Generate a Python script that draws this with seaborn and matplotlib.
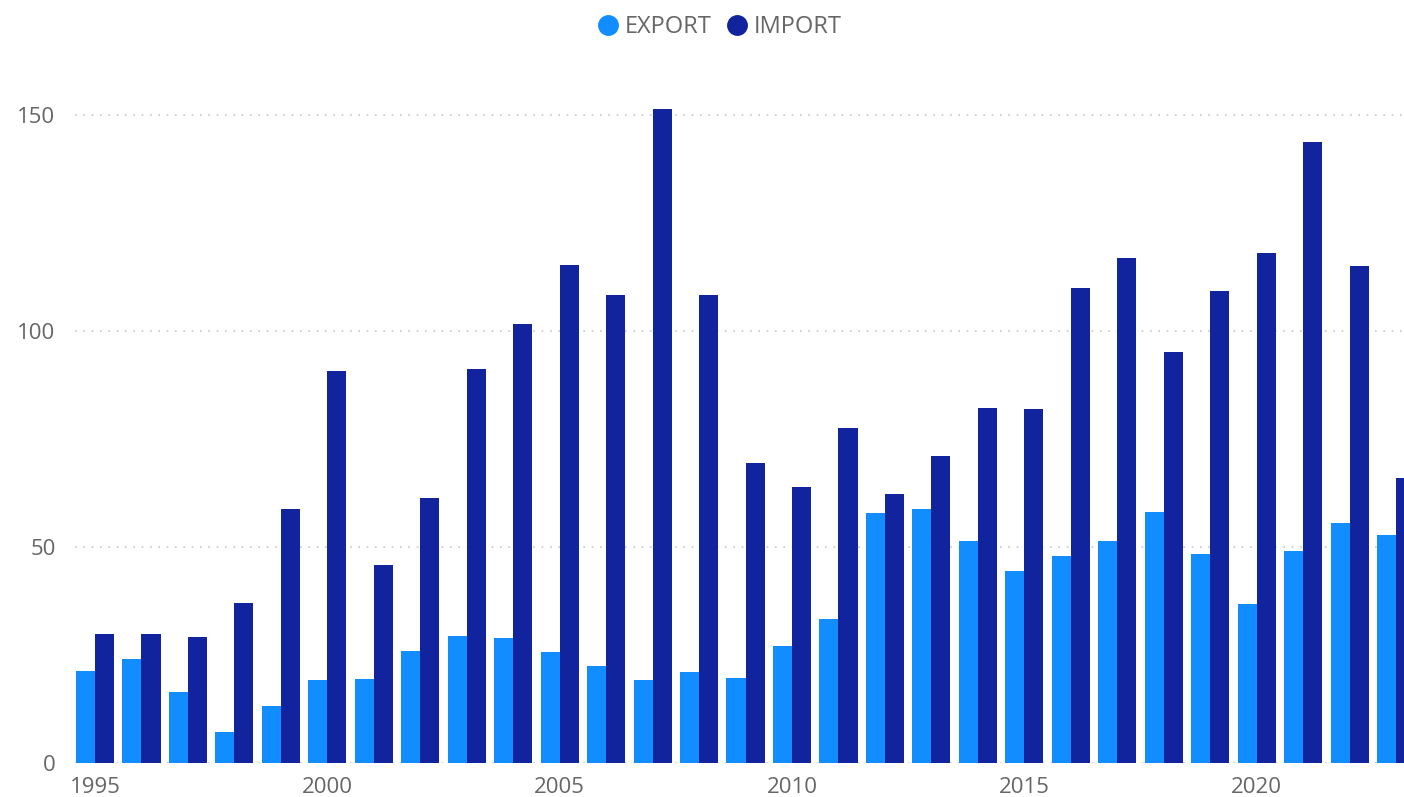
import pandas as pd
import matplotlib.pyplot as plt
import seaborn as sns
from matplotlib.lines import Line2D

# values
years = list(range(1995, 2024))
export = [21.3, 24.1, 16.5, 7.2, 13.2, 19.3, 19.5, 26.0, 29.5, 29.0,
          25.8, 22.5, 19.3, 21.1, 19.7, 27.1, 33.4, 57.8, 58.7, 51.5,
          44.5, 48.0, 51.5, 58.2, 48.5, 36.9, 49.0, 55.5, 52.9]
imports = [29.9, 29.9, 29.2, 37.1, 58.7, 90.7, 45.9, 61.3, 91.2, 101.6,
           115.3, 108.4, 151.5, 108.4, 69.4, 64.0, 77.5, 62.4, 71.0, 82.1,
           81.9, 110.0, 116.9, 95.1, 109.3, 118.1, 143.9, 115.1, 66.1]
series = ['EXPORT', 'IMPORT']
colors = ['#118DFF', '#12239E']

df = pd.DataFrame({
    'year': [str(y) for y in years] * 2,
    'value': export + imports,
    'flow': ['EXPORT'] * len(years) + ['IMPORT'] * len(years),
})

sns.set_style('white')
plt.rcParams['font.family'] = ['Open Sans', 'DejaVu Sans']

fig = plt.figure(figsize=(14.04, 7.97), dpi=100)
ax = fig.add_axes([75 / 1404, 34 / 797, 1 - 75 / 1404, (763 - 72) / 797])

sns.barplot(data=df, x='year', y='value', hue='flow', hue_order=series,
            palette=colors, width=0.82, saturation=1, legend=False, ax=ax,
            linewidth=0, edgecolor='none', zorder=3)

ax.set_xlim(-0.43, 28.17)
ax.set_ylim(0, 160)
ax.set_yticks([0, 50, 100, 150])
ax.set_xticks([i for i, y in enumerate(years) if y % 5 == 0])
ax.set_xticklabels([str(y) for y in years if y % 5 == 0])
ax.set_xlabel('')
ax.set_ylabel('')
ax.grid(axis='y', color='#c8c8c8', linestyle=(0, (1, 4)), linewidth=1.2, zorder=0)
ax.set_axisbelow(True)
for s in ax.spines.values():
    s.set_visible(False)
ax.tick_params(axis='both', length=0, labelsize=16, labelcolor='#666666')
ax.tick_params(axis='y', pad=14)
ax.tick_params(axis='x', pad=10)

handles = [Line2D([], [], marker='o', linestyle='', markersize=14,
                  markerfacecolor=c, markeredgecolor=c) for c in colors]
fig.legend(handles, series, loc='upper center', bbox_to_anchor=(0.508, 1.008),
           ncol=2, frameon=False, fontsize=17, handletextpad=-0.3,
           columnspacing=0.1, labelcolor='#666666')

fig.savefig('out.png', dpi=100)
